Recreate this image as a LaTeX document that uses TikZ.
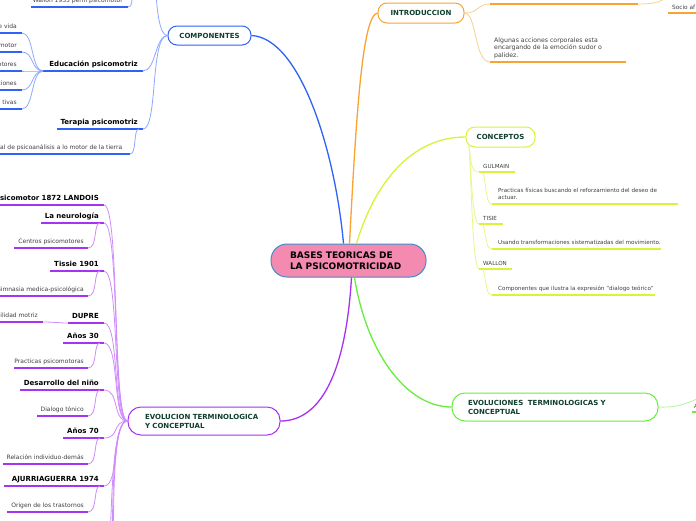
\documentclass[tikz,border=0pt]{standalone}
\usepackage{fontspec}
\setmainfont{DejaVu Sans}
\definecolor{cblue}{HTML}{2F63F5}
\definecolor{cbluel}{HTML}{8EA8FF}
\definecolor{corange}{HTML}{F9A431}
\definecolor{corangel}{HTML}{FBD08F}
\definecolor{cyg}{HTML}{DAF23A}
\definecolor{cygl}{HTML}{E9F78A}
\definecolor{cgreen}{HTML}{66EE3E}
\definecolor{cgreenl}{HTML}{AFF59A}
\definecolor{cpurple}{HTML}{A632F2}
\definecolor{cpurplel}{HTML}{CF8CFA}
\definecolor{pinkfill}{HTML}{F48AB0}
\definecolor{rootborder}{HTML}{3F8CCB}
\definecolor{topictext}{HTML}{0F3D2E}
\definecolor{graytext}{HTML}{404040}
\newcommand{\ftopicfont}{\fontsize{7}{9}\selectfont\bfseries}
\newcommand{\frootfont}{\fontsize{9}{11}\selectfont\bfseries}
\newcommand{\fboldfont}{\fontsize{7}{8.5}\selectfont\bfseries}
\newcommand{\fsmallfont}{\fontsize{6}{7.5}\selectfont}
\newcommand{\ftinyfont}{\fontsize{5.6}{7}\selectfont}
\newcommand{\mkline}[5]{\coordinate (#1-l) at (#2,#4); \coordinate (#1-r) at (#3,#4); \draw[ul=#5] (#1-l) -- (#1-r);}
\tikzset{
  topic/.style={draw=#1, line width=1pt, rounded corners=9pt, fill=white, inner sep=0pt, text=topictext, font=\ftopicfont},
  boldlbl/.style={inner sep=0pt, font=\fboldfont, text=black},
  smalllbl/.style={inner sep=0pt, font=\fsmallfont, text=graytext},
  tinylbl/.style={inner sep=0pt, font=\ftinyfont, text=graytext},
  ul/.style={line width=1.7pt, draw=#1},
  conn/.style={line width=0.8pt, draw=#1},
  mainconn/.style={line width=1.3pt, draw=#1},
}
\begin{document}
\begin{tikzpicture}[x=1pt,y=-1pt]
\useasboundingbox (0,0) rectangle (696,520);
\clip (0,0) rectangle (696,520);
\fill[white] (0,0) rectangle (696,520);

% ---------- topic nodes ----------
\node[draw=rootborder, fill=pinkfill, line width=1pt, rounded corners=16pt, minimum width=155pt, minimum height=33pt, text width=117pt, align=left, font=\frootfont, inner sep=0pt] (root) at (348.5,260.5) {BASES TEORICAS DE\\LA PSICOMOTRICIDAD};
\node[topic=cblue, minimum width=83pt, minimum height=19pt] (comp) at (209.5,35.5) {COMPONENTES};
\node[topic=corange, minimum width=86pt, minimum height=20pt] (intro) at (421,13) {INTRODUCCION};
\node[topic=cyg, minimum width=69pt, minimum height=20pt] (conc) at (500.5,137) {CONCEPTOS};
\node[topic=cgreen, rounded corners=13pt, minimum width=206pt, minimum height=28pt, text width=174pt, align=left] (evoltwo) at (555,407) {EVOLUCIONES\ \ TERMINOLOGICAS Y\\CONCEPTUAL};
\node[topic=cpurple, rounded corners=13pt, minimum width=152pt, minimum height=28pt, text width=118pt, align=left] (evolone) at (204,421) {EVOLUCION TERMINOLOGICA\\Y CONCEPTUAL};

% ---------- main connectors ----------
\draw[mainconn=cblue] ([xshift=-5pt]root.north) .. controls (335,150) and (300,38) .. (comp.east);
\draw[mainconn=corange] ([xshift=1pt]root.north) .. controls (356,120) and (362,15) .. (intro.west);
\draw[mainconn=cyg] ([xshift=8pt]root.north) .. controls (374,185) and (410,137) .. (conc.west);
\draw[mainconn=cgreen] ([xshift=6pt]root.south) .. controls (366,350) and (405,407) .. (evoltwo.west);
\draw[mainconn=cpurple] ([xshift=3pt]root.south) .. controls (345,385) and (315,421) .. (evolone.east);

% ---------- COMPONENTES (blue) ----------
\coordinate (compup) at (156,-8);
\draw[conn=cbluel] (comp.west) .. controls (160,36) and (157,12) .. (compup);
\mkline{wil}{31}{128}{7}{cblue}
\node[smalllbl, anchor=base east] (wiltxt) at (123,2) {Wallon 1935 perfil psicomotor};
\coordinate (wilup) at (133,-8);
\draw[conn=cbluel] (wil-r) .. controls (133,7) and (131,0) .. (wilup);

\mkline{edu}{43}{143}{71}{cblue}
\node[boldlbl, anchor=base east] (edutxt) at (138,66) {Educación psicomotriz};
\draw[conn=cbluel] (comp.west) .. controls (155,36) and (156,71) .. (edu-r);
\mkline{eda}{-2}{22}{33}{cblue}
\mkline{edb}{-2}{22}{52}{cblue}
\mkline{edc}{-2}{22}{71}{cblue}
\mkline{edd}{-2}{22}{90}{cblue}
\mkline{ede}{-2}{22}{109}{cblue}
\node[smalllbl, anchor=base east] (edatxt) at (17,28.5) {e vida};
\node[smalllbl, anchor=base east] (edbtxt) at (17,47.5) {motor};
\node[smalllbl, anchor=base east] (edctxt) at (17,66.5) {otores};
\node[smalllbl, anchor=base east] (eddtxt) at (17,85.5) {ciones};
\node[smalllbl, anchor=base east] (edetxt) at (17,104.5) {tivas};
\foreach \c in {eda,edb,edc,edd,ede}{
  \draw[conn=cbluel] (edu-l) .. controls (31,71) and (34,0|-\c-r) .. (\c-r);
}

\mkline{ter}{57}{143}{129}{cblue}
\node[boldlbl, anchor=base east] (tertxt) at (138,124) {Terapia psicomotriz};
\draw[conn=cbluel] (comp.west) .. controls (150,36) and (158,129) .. (ter-r);
\mkline{terc}{-2}{130}{154}{cblue}
\node[smalllbl, anchor=base west] (tertxtc) at (0,149.5) {al de psicoanálisis a lo motor de la tierra};
\draw[conn=cbluel] ([xshift=-4pt]ter-r) .. controls (133,129) and (137,154) .. (terc-r);

% ---------- INTRODUCCION (orange) ----------
\mkline{ina}{490}{638}{4}{corange}
\draw[conn=corangel] (intro.east) .. controls (480,13) and (476,4) .. (ina-l);
\coordinate (inup) at (672,-8);
\draw[conn=corangel] (ina-r) .. controls (655,4) and (664,2) .. (inup);
\mkline{inb}{490}{626}{62}{corange}
\node[smalllbl, anchor=north west, align=left, font=\fontsize{6.2}{7.5}\selectfont] (inbtxt) at (494,37.5) {Algunas acciones corporales esta\\encargando de la emoción sudor o\\palidez.};
\draw[conn=corangel] (intro.east) .. controls (477,13) and (474,62) .. (inb-l);
\mkline{inc}{668}{700}{13}{corange}
\node[smalllbl, anchor=base west, font=\fontsize{5.8}{7}\selectfont] (inctxt) at (672,9.5) {Socio af};

% ---------- CONCEPTOS (yellow-green) ----------
\coordinate (concfoot) at (469,146);
\mkline{gul}{479}{515}{172}{cyg}
\node[tinylbl, anchor=base west] (gultxt) at (483,168) {GULMAIN};
\mkline{pra}{492}{678}{204}{cyg}
\node[tinylbl, anchor=north west, align=left] (pratxt) at (498,188) {Practicas físicas buscando el reforzamiento del deseo de\\actuar.};
\mkline{tis}{479}{503}{224}{cyg}
\node[tinylbl, anchor=base west] (tistxt) at (483,220) {TISIE};
\mkline{usa}{492}{661}{249}{cyg}
\node[tinylbl, anchor=base west] (usatxt) at (498,244.5) {Usando transformaciones sistematizadas del movimiento.};
\mkline{wal}{479}{512}{269}{cyg}
\node[tinylbl, anchor=base west] (waltxt) at (483,265) {WALLON};
\mkline{cmp}{492}{655}{295}{cyg}
\node[tinylbl, anchor=base west] (cmptxt) at (498,290.5) {Componentes que ilustra la expresión "dialogo teórico"};
\foreach \c in {gul,tis,wal}{
  \draw[conn=cygl] (concfoot) .. controls (471,165) and (472,0|-\c-l) .. (\c-l);
}
\draw[conn=cygl] ([xshift=4pt]gul-l) .. controls (487,190) and (486,204) .. (pra-l);
\draw[conn=cygl] ([xshift=4pt]tis-l) .. controls (487,240) and (486,249) .. (usa-l);
\draw[conn=cygl] ([xshift=4pt]wal-l) .. controls (487,285) and (486,295) .. (cmp-l);

% ---------- EVOLUCIONES (green) ----------
\coordinate (grup) at (700,398);
\draw[conn=cgreenl] (evoltwo.east) .. controls (680,408) and (688,402) .. (grup);
\mkline{gra}{692}{700}{412}{cgreen}
\node[tinylbl, anchor=base west] (gratxt) at (694,408) {A};

% ---------- EVOLUCION TERMINOLOGICA (purple) ----------
\mkline{lan}{-2}{104}{205}{cpurple}
\node[boldlbl, anchor=base east] (lantxt) at (99,200) {Psicomotor 1872 LANDOIS};
\mkline{neu}{41}{104}{223}{cpurple}
\node[boldlbl, anchor=base east] (neutxt) at (99,218) {La neurología};
\mkline{tss}{50}{104}{271}{cpurple}
\node[boldlbl, anchor=base east] (tsstxt) at (99,266) {Tissie 1901};
\mkline{dup}{68}{104}{323}{cpurple}
\node[boldlbl, anchor=base east] (duptxt) at (99,318) {DUPRE};
\mkline{atr}{63}{104}{343}{cpurple}
\node[boldlbl, anchor=base east] (atrtxt) at (99,338) {Años 30};
\mkline{des}{20}{104}{390}{cpurple}
\node[boldlbl, anchor=base east] (destxt) at (99,385) {Desarrollo del niño};
\mkline{ast}{63}{104}{438}{cpurple}
\node[boldlbl, anchor=base east] (asttxt) at (99,433) {Años 70};
\mkline{aju}{4}{104}{486}{cpurple}
\node[boldlbl, anchor=base east] (ajutxt) at (99,481) {AJURRIAGUERRA 1974};
\coordinate (pba) at (110,545);
\coordinate (pbb) at (112,585);
\coordinate (pbc) at (114,625);
\foreach \c in {lan,neu,tss,dup,atr,des,ast,aju}{
  \draw[conn=cpurplel] (evolone.west) .. controls (112,421) and (120,0|-\c-r) .. (\c-r);
}
\foreach \c in {pba,pbb,pbc}{
  \draw[conn=cpurplel] (evolone.west) .. controls (114,421) and (112,480) .. (\c);
}
% children
\mkline{cen}{14}{88}{248}{cpurple}
\node[smalllbl, anchor=base east] (centxt) at (84,243.5) {Centros psicomotores};
\mkline{gim}{-2}{88}{296}{cpurple}
\node[smalllbl, anchor=base east] (gimtxt) at (84,291.5) {Gimnasia medica-psicológica};
\mkline{deb}{-2}{43}{322}{cpurple}
\node[smalllbl, anchor=base east] (debtxt) at (38,317.5) {Debilidad motriz};
\mkline{pps}{14}{88}{368}{cpurple}
\node[smalllbl, anchor=base east] (ppstxt) at (84,363.5) {Practicas psicomotoras};
\mkline{dia}{37}{88}{416}{cpurple}
\node[smalllbl, anchor=base east] (diatxt) at (84,411.5) {Dialogo tónico};
\mkline{rel}{3}{88}{464}{cpurple}
\node[smalllbl, anchor=base east] (reltxt) at (84,459.5) {Relación individuo-demás};
\mkline{ori}{7}{88}{512}{cpurple}
\node[smalllbl, anchor=base east] (oritxt) at (84,507.5) {Origen de los trastornos};
\draw[conn=cpurplel] ([xshift=-4pt]neu-r) .. controls (93,223) and (98,248) .. (cen-r);
\draw[conn=cpurplel] ([xshift=-4pt]tss-r) .. controls (93,271) and (98,296) .. (gim-r);
\draw[conn=cpurplel] ([xshift=-4pt]atr-r) .. controls (93,343) and (98,368) .. (pps-r);
\draw[conn=cpurplel] ([xshift=-4pt]des-r) .. controls (93,390) and (98,416) .. (dia-r);
\draw[conn=cpurplel] ([xshift=-4pt]ast-r) .. controls (93,438) and (98,464) .. (rel-r);
\draw[conn=cpurplel] ([xshift=-4pt]aju-r) .. controls (93,486) and (98,512) .. (ori-r);
\draw[conn=cpurplel] (deb-r) .. controls (55,322) and (58,323) .. (dup-l);
\end{tikzpicture}
\end{document}
